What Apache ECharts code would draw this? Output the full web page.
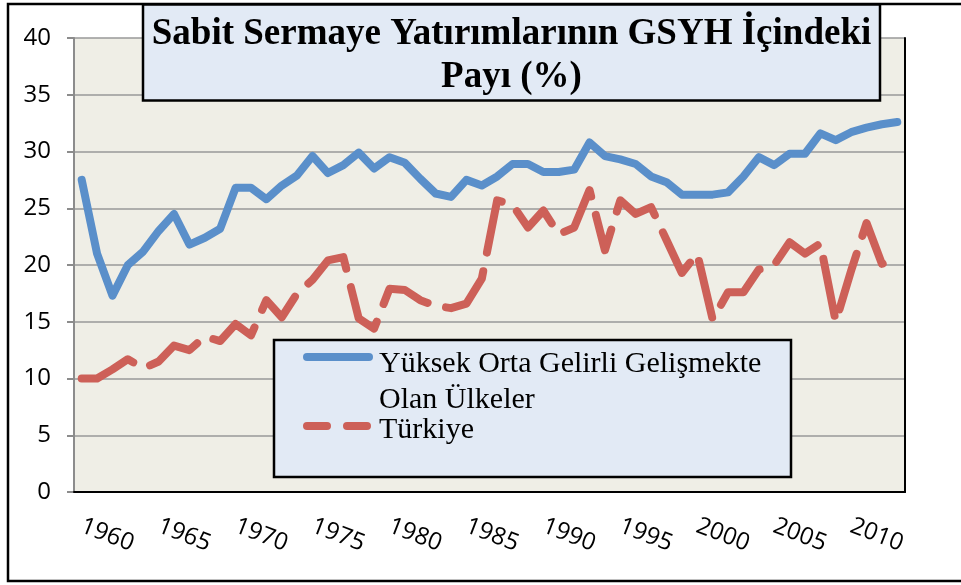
<!DOCTYPE html>
<html>
<head>
<meta charset="utf-8">
<title>Sabit Sermaye Yatırımlarının GSYH İçindeki Payı</title>
<script src="https://cdn.jsdelivr.net/npm/echarts@6.0.0/dist/echarts.min.js"></script>
<style>
  html, body { margin: 0; padding: 0; background: #fff; }
  #chart { width: 961px; height: 585px; }
</style>
</head>
<body>
<div id="chart"></div>
<script>
// yıllar (kategori ekseni)
var years = [
    '1960', '1961', '1962', '1963', '1964', '1965', '1966', '1967', '1968', '1969',
    '1970', '1971', '1972', '1973', '1974', '1975', '1976', '1977', '1978', '1979',
    '1980', '1981', '1982', '1983', '1984', '1985', '1986', '1987', '1988', '1989',
    '1990', '1991', '1992', '1993', '1994', '1995', '1996', '1997', '1998', '1999',
    '2000', '2001', '2002', '2003', '2004', '2005', '2006', '2007', '2008', '2009',
    '2010', '2011', '2012', '2013'
];

// Yüksek orta gelirli gelişmekte olan ülkeler (%)
var ustOrtaGelir = [
    27.5, 21.0, 17.3, 20.0, 21.2, 23.0, 24.5, 21.8, 22.4, 23.2,
    26.8, 26.8, 25.8, 27.0, 27.9, 29.6, 28.1, 28.8, 29.9, 28.5,
    29.5, 29.0, 27.6, 26.3, 26.0, 27.5, 27.0, 27.8, 28.9, 28.9,
    28.2, 28.2, 28.4, 30.8, 29.6, 29.3, 28.9, 27.8, 27.3, 26.2,
    26.2, 26.2, 26.4, 27.8, 29.5, 28.8, 29.8, 29.8, 31.6, 31.0,
    31.7, 32.1, 32.4, 32.6
];

// Türkiye (%)
var turkiye = [
    10.0, 10.0, 10.8, 11.7, 10.9, 11.5, 12.9, 12.5, 13.7, 13.3,
    14.8, 13.8, 16.9, 15.4, 17.5, 18.7, 20.4, 20.7, 15.3, 14.4,
    17.9, 17.8, 16.9, 16.4, 16.2, 16.6, 18.8, 25.7, 25.3, 23.3,
    24.8, 22.7, 23.3, 26.6, 21.3, 25.7, 24.5, 25.1, 22.2, 19.3,
    21.0, 15.2, 17.6, 17.6, 19.6, 20.0, 22.0, 21.0, 21.9, 15.0,
    19.5, 23.7, 20.1, 20.7
];

var yTicks = [0, 40, 5]; // min, max, aralık

var blueName = 'Yüksek Orta Gelirli Gelişmekte Olan Ülkeler';
var redName = 'Türkiye';
var blue = '#5A8FCA';
var red = '#CD6058';
var axisGrey = '#8C8C8C';
var boxBlue = '#E2EAF5';

// lejant yazısı; üstteki boş satır simgeyi ilk satırla hizalar
function legendStyle(spacer) {
    return {
        fontFamily: 'Liberation Serif',
        fontSize: 30,
        lineHeight: 36,
        color: '#000',
        rich: {
            s: { fontSize: 1, lineHeight: spacer },
            a: {
                fontFamily: 'Liberation Serif',
                fontSize: 30,
                lineHeight: 36,
                color: '#000',
                padding: [0, 0, 0, 5]
            }
        }
    };
}

var chart = echarts.init(document.getElementById('chart'));

chart.setOption({
    animation: false,
    title: {
        text: 'Sabit Sermaye Yatırımlarının GSYH İçindeki\nPayı (%)',
        left: 502.5,
        top: 4,
        textAlign: 'center',
        textVerticalAlign: 'top',
        padding: [9, 9, 2, 9],
        backgroundColor: boxBlue,
        borderColor: '#000',
        borderWidth: 2.5,
        textStyle: {
            fontFamily: 'Liberation Serif',
            fontWeight: 'bold',
            fontSize: 37,
            lineHeight: 43,
            color: '#000'
        }
    },
    legend: [
        {
            data: [blueName],
            left: 303,
            top: 296,
            padding: 0,
            itemWidth: 62,
            itemHeight: 8,
            formatter: function () {
                return '{s| }\n{a|Yüksek Orta Gelirli Gelişmekte}\n{a|Olan Ülkeler}';
            },
            textStyle: legendStyle(50),
            lineStyle: { width: 8, cap: 'round', type: 'solid' },
            itemStyle: { color: 'rgba(0,0,0,0)', borderWidth: 0 }
        },
        {
            data: [redName],
            left: 303,
            top: 404,
            padding: 0,
            itemWidth: 62,
            itemHeight: 8,
            formatter: function (name) {
                return '{s| }\n{a|' + name + '}';
            },
            textStyle: legendStyle(8),
            lineStyle: { width: 8, cap: 'round', type: [20, 20] },
            itemStyle: { color: 'rgba(0,0,0,0)', borderWidth: 0 }
        }
    ],
    grid: {
        left: 74,
        right: 56,
        top: 38,
        bottom: 93,
        show: true,
        backgroundColor: '#EFEEE6',
        borderWidth: 0,
        outerBoundsMode: 'none'
    },
    xAxis: [
        {
            type: 'category',
            data: years,
            boundaryGap: true,
            axisLine: { lineStyle: { color: axisGrey, width: 2 } },
            axisTick: { interval: 0, length: 7, lineStyle: { color: axisGrey, width: 2 } },
            axisLabel: {
                interval: 4,
                rotate: -21,
                margin: 33,
                fontFamily: 'Open Sans',
                fontSize: 24,
                color: '#000'
            },
            splitLine: { show: false }
        },
        {
            // çizim alanının üst kenarı
            type: 'category',
            data: years,
            position: 'top',
            z: 3,
            axisLine: { lineStyle: { color: '#000', width: 2 } },
            axisTick: { show: false },
            axisLabel: { show: false },
            splitLine: { show: false }
        }
    ],
    yAxis: [
        {
            type: 'value',
            min: yTicks[0],
            max: yTicks[1],
            interval: yTicks[2],
            axisLine: { show: true, lineStyle: { color: axisGrey, width: 2 } },
            axisTick: { show: true, length: 7, lineStyle: { color: axisGrey, width: 2 } },
            axisLabel: {
                margin: 23,
                fontFamily: 'Open Sans',
                fontSize: 24,
                color: '#000'
            },
            splitLine: { lineStyle: { color: '#999999', width: 1.5 } }
        },
        {
            // çizim alanının sağ kenarı
            type: 'value',
            position: 'right',
            min: yTicks[0],
            max: yTicks[1],
            interval: yTicks[2],
            z: 3,
            axisLine: { show: true, lineStyle: { color: '#000', width: 2 } },
            axisTick: { show: false },
            axisLabel: { show: false },
            splitLine: { show: false }
        }
    ],
    series: [
        {
            name: blueName,
            type: 'line',
            data: ustOrtaGelir,
            symbol: 'none',
            itemStyle: { color: blue },
            lineStyle: { color: blue, width: 8, cap: 'round', join: 'round' }
        },
        {
            name: redName,
            type: 'line',
            data: turkiye,
            symbol: 'none',
            itemStyle: { color: red },
            lineStyle: { color: red, width: 8, type: [58, 19], cap: 'round', join: 'round' }
        }
    ],
    graphic: [
        {
            // dış çerçeve
            type: 'rect',
            silent: true,
            z: 0,
            shape: { x: 8, y: 4, width: 1000, height: 577 },
            style: { fill: 'none', stroke: '#000', lineWidth: 2.5 }
        },
        {
            // lejant kutusu
            type: 'rect',
            silent: true,
            z: 3,
            shape: { x: 274, y: 340, width: 517, height: 137 },
            style: { fill: boxBlue, stroke: '#000', lineWidth: 2.5 }
        }
    ]
});
</script>
</body>
</html>
